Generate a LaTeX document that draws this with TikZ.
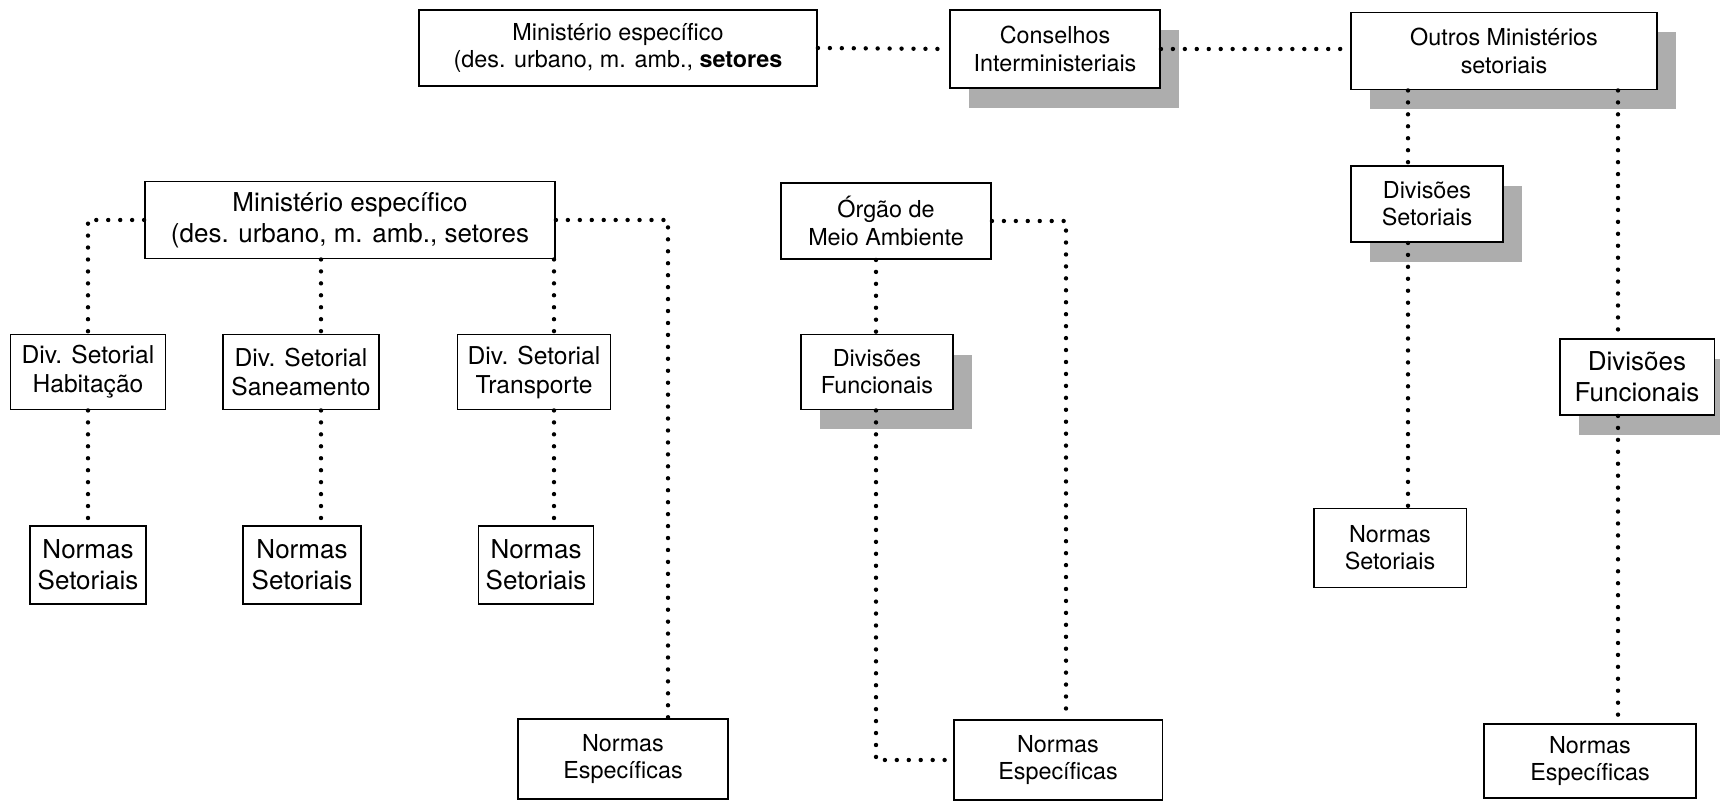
\documentclass[tikz,border=0pt]{standalone}
\usepackage{fontspec}
\setmainfont{TeX Gyre Heros}
\usetikzlibrary{shadows}

\begin{document}
\begin{tikzpicture}[x=0.02cm,y=-0.02cm,
    box/.style={draw,line width=1.1pt,fill=white,align=center,inner sep=0pt,font=\fontsize{13.3}{15.5}\selectfont},
    divbox/.style={box,font=\fontsize{14}{16.5}\selectfont},
    bigbox/.style={box,font=\fontsize{14.8}{17.5}\selectfont},
    shade/.style={drop shadow={shadow xshift=0.38cm,shadow yshift=-0.4cm,fill=black!32,opacity=1}},
    link/.style={line width=2.5pt,line cap=round,dash pattern=on 0pt off 6.8pt}]
    \useasboundingbox (0,0) rectangle (1720,803);
    % top row
    \node[box,minimum width=7.96cm,minimum height=1.52cm] (min1) at (618,48) {Ministério específico\\(des. urbano, m. amb., \textbf{setores}};
    \node[box,shade,minimum width=4.2cm,minimum height=1.56cm] (cons) at (1055,49) {Conselhos\\Interministeriais};
    \node[box,shade,minimum width=6.12cm,minimum height=1.54cm] (outros) at (1504,51) {Outros Ministérios\\setoriais};
    % second row
    \node[bigbox,minimum width=8.2cm,minimum height=1.54cm] (min2) at (350,220) {Ministério específico\\(des. urbano, m. amb., setores};
    \node[box,minimum width=4.2cm,minimum height=1.52cm] (orgao) at (886,221) {Órgão de\\Meio Ambiente};
    \node[box,shade,minimum width=3.04cm,minimum height=1.52cm] (divset) at (1427,204) {Divisões\\Setoriais};
    % divisions
    \node[divbox,minimum width=3.1cm,minimum height=1.5cm] (hab) at (88,372) {Div. Setorial\\Habitação};
    \node[divbox,minimum width=3.12cm,minimum height=1.5cm] (san) at (301,372) {Div. Setorial\\Saneamento};
    \node[divbox,minimum width=3.06cm,minimum height=1.5cm] (trans) at (534,372) {Div. Setorial\\Transporte};
    \node[box,shade,minimum width=3.04cm,minimum height=1.5cm] (divfun) at (877,372) {Divisões\\Funcionais};
    \node[bigbox,shade,minimum width=3.1cm,minimum height=1.52cm] (divfunb) at (1637,377) {Divisões\\Funcionais};
    % norms
    \node[bigbox,minimum width=2.32cm,minimum height=1.56cm] (nsa) at (88,565) {Normas\\Setoriais};
    \node[bigbox,minimum width=2.36cm,minimum height=1.56cm] (nsb) at (302,565) {Normas\\Setoriais};
    \node[bigbox,minimum width=2.3cm,minimum height=1.56cm] (nsc) at (536,565) {Normas\\Setoriais};
    \node[box,minimum width=3.06cm,minimum height=1.58cm] (nsd) at (1390,548) {Normas\\Setoriais};
    \node[box,minimum width=4.2cm,minimum height=1.6cm] (nea) at (623,759) {Normas\\Específicas};
    \node[box,minimum width=4.18cm,minimum height=1.6cm] (neb) at (1058,760) {Normas\\Específicas};
    \node[box,minimum width=4.24cm,minimum height=1.48cm] (nec) at (1590,761) {Normas\\Específicas};
    % vertical rails
    \coordinate (sanx) at (321,0);
    \coordinate (transx) at (554,0);
    \coordinate (espx) at (668,0);
    \coordinate (funx) at (876,0);
    \coordinate (envx) at (1066,0);
    \coordinate (setx) at (1408,0);
    \coordinate (funbx) at (1618,0);
    % connectors
    \draw[link] (min1.east) -- (cons.west);
    \draw[link] (cons.east) -- (cons.east -| outros.west);
    \draw[link] (min2.west) -| (hab.north);
    \draw[link] (hab.south) -- (nsa.north);
    \draw[link] (min2.south -| sanx) -- (san.north -| sanx);
    \draw[link] (san.south -| sanx) -- (nsb.north -| sanx);
    \draw[link] (min2.south -| transx) -- (trans.north -| transx);
    \draw[link] (trans.south -| transx) -- (nsc.north -| transx);
    \draw[link] (min2.east) -| (nea.north -| espx);
    \draw[link] (orgao.south -| funx) -- (divfun.north -| funx);
    \draw[link] (divfun.south -| funx) |- (neb.west);
    \draw[link] (orgao.east) -| (neb.north -| envx);
    \draw[link] (outros.south -| setx) -- (divset.north -| setx);
    \draw[link] (divset.south -| setx) -- (nsd.north -| setx);
    \draw[link] (outros.south -| funbx) -- (divfunb.north -| funbx);
    \draw[link] (divfunb.south -| funbx) -- (nec.north -| funbx);
\end{tikzpicture}
\end{document}
